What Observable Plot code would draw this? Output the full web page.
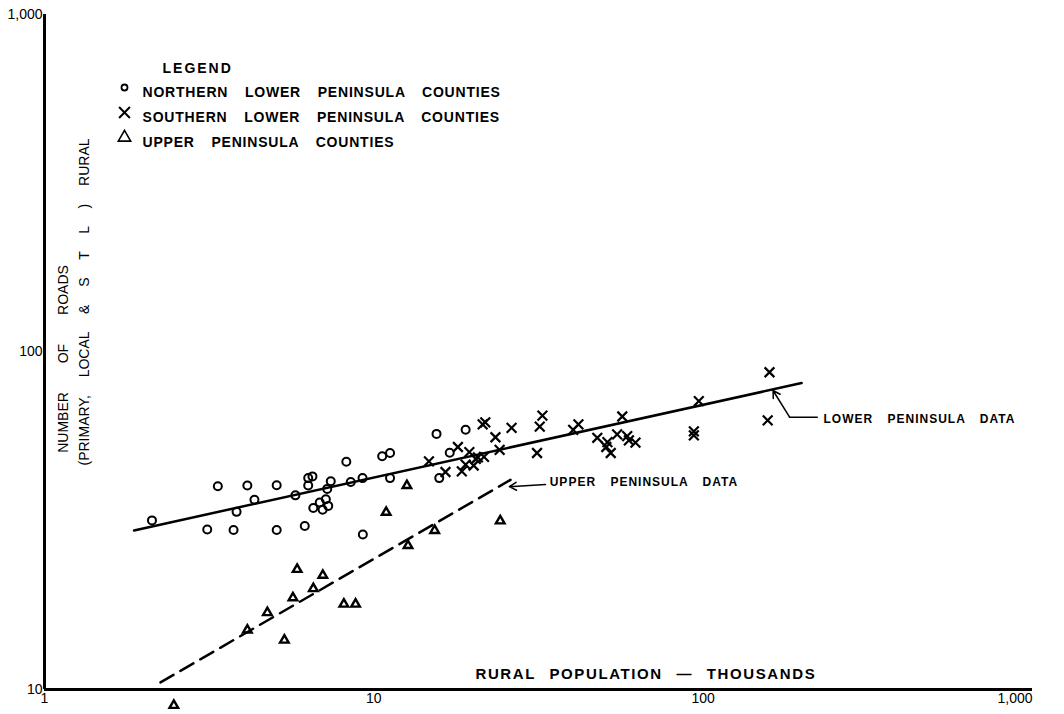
<!DOCTYPE html>
<html><head><meta charset="utf-8">
<script src="https://cdn.jsdelivr.net/npm/d3@7"></script>
<script src="https://cdn.jsdelivr.net/npm/@observablehq/plot@0.6"></script>
<style>
body{margin:0;background:#fff}
#chart svg{display:block}
</style>
</head><body><div id="chart"></div>
<script>
// Rural population (thousands) vs number of roads
const northernX = [2.12,3.12,3.36,3.75,3.83,4.13,4.34,5.07,5.07,5.78,6.17,6.32,6.51,6.32,6.55,6.85,6.99,7.15,7.27,7.22,7.40,8.25,8.51,9.24,9.26,10.6,11.2,11.2,15.5,19.0,17.0,15.8];
const northernY = [31.7,29.8,40.0,29.7,33.6,40.2,36.5,40.3,29.7,37.6,30.5,42.3,42.8,40.2,34.5,35.8,34.1,36.6,35.0,39.3,41.4,47.3,41.2,42.3,28.8,49.1,50.2,42.3,57.2,58.8,50.3,42.3];

const southernX = [14.7,16.5,18.0,18.5,19.0,19.5,20.1,20.4,20.7,21.6,21.4,21.8,23.4,24.1,26.2,31.3,31.9,32.5,40.3,41.8,47.7,50.8,51.2,52.4,54.8,56.8,58.8,59.5,62.3,93.7,93.7,97.0,157,159];
const southernY = [47.4,44.1,52.3,44.3,46.4,50.5,46.1,48.2,48.7,48.9,61.0,61.9,55.9,51.3,59.6,50.2,60.1,64.8,58.8,61.0,55.7,52.3,54.1,50.2,57.0,64.4,56.3,54.7,53.9,58.2,56.6,71.5,62.7,87.1];

const upperX = [12.6,10.9,24.2,15.3,12.7,5.85,7.00,6.55,5.68,8.11,8.80,4.75,4.13,5.35,2.47];
const upperY = [40.2,33.5,31.6,29.6,26.7,22.7,21.8,19.9,18.7,17.9,17.9,16.9,15.0,14.0,8.97];

// fitted lines
const lowerLineX = [1.87, 199];
const lowerLineY = [29.6, 80.9];
const upperLineX = [2.25, 26.0];
const upperLineY = [10.5, 41.8];

// annotation leaders
const lowerLeaderX = [222, 183, 163];
const lowerLeaderY = [64.1, 64.1, 76.9];
const upperLeaderX = [33.2, 25.8];
const upperLeaderY = [40.5, 39.9];
const lowerLabel = "LOWER PENINSULA DATA";
const lowerLabelX = 232, lowerLabelY = 63.1;
const upperLabel = "UPPER PENINSULA DATA";
const upperLabelX = 34.2, upperLabelY = 41.1;

// axes
const xTicks = [1, 10, 100];
const xTickLabels = ["1", "10", "100"];
const xLastTick = [1000];
const xLastTickLabel = ["1,000"];
const yTicks = [10, 100, 1000];
const yTickLabels = ["10", "100", "1,000"];
const xTitle = "RURAL POPULATION — THOUSANDS";
const yTitle1 = "NUMBER OF ROADS";
const yTitle2 = "(PRIMARY, LOCAL & S T L ) RURAL";

// legend
const legendTitle = "LEGEND";
const legendLabels = ["NORTHERN LOWER PENINSULA COUNTIES", "SOUTHERN LOWER PENINSULA COUNTIES", "UPPER PENINSULA COUNTIES"];
const legendSymbols = ["circle", "times", "triangle"];

const pts = (xs, ys) => xs.map((x, i) => ({x, y: ys[i]}));
const northern = pts(northernX, northernY);
const southern = pts(southernX, southernY);
const upper = pts(upperX, upperY);
const lowerLine = pts(lowerLineX, lowerLineY);
const upperLine = pts(upperLineX, upperLineY);
const lowerLeader = pts(lowerLeaderX, lowerLeaderY);

const legendMarks = [];
const legendR = [3, 5, 4.6];
const legendSW = [1.8, 2, 1.6];
legendLabels.forEach((lab, i) => {
  legendMarks.push(Plot.dot([0], {frameAnchor: "top-left", dx: 80, dy: 73 + 25 * i, symbol: legendSymbols[i], r: legendR[i], stroke: "black", strokeWidth: legendSW[i], fill: "none"}));
  legendMarks.push(Plot.text([lab], {frameAnchor: "top-left", dx: 98, dy: 73 + 25 * i, textAnchor: "start", fontWeight: "bold", fontSize: 14}));
});

const chart = Plot.plot({
  width: 1064, height: 714,
  marginLeft: 44, marginRight: 32, marginTop: 14, marginBottom: 25,
  style: {fontFamily: "'Liberation Sans', Arial, sans-serif", fontSize: "14px", background: "white", color: "black"},
  x: {type: "log", domain: [1, 1000]},
  y: {type: "log", domain: [10, 1000]},
  marks: [
    Plot.axisY({ticks: yTicks, tickSize: 0, tickPadding: 2, label: null, fontSize: 14, tickFormat: d => yTickLabels[yTicks.indexOf(d)]}),
    Plot.axisX({ticks: xTicks, tickSize: 0, tickPadding: 4, label: null, fontSize: 14, tickFormat: d => xTickLabels[xTicks.indexOf(d)]}),
    Plot.axisX({ticks: xLastTick, tickSize: 0, tickPadding: 4, label: null, fontSize: 14, textAnchor: "end", tickFormat: d => xLastTickLabel[xLastTick.indexOf(d)]}),
    Plot.ruleX([1], {y1: 10, y2: 1000, strokeWidth: 3}),
    Plot.ruleY([10], {x1: 1, x2: 1000, strokeWidth: 3}),
    Plot.line(lowerLine, {x: "x", y: "y", stroke: "black", strokeWidth: 2.5}),
    Plot.line(upperLine, {x: "x", y: "y", stroke: "black", strokeWidth: 2.5, strokeDasharray: "15,8"}),
    Plot.dot(northern, {x: "x", y: "y", r: 4, stroke: "black", strokeWidth: 2, fill: "none"}),
    Plot.dot(southern, {x: "x", y: "y", symbol: "times", r: 4.5, stroke: "black", strokeWidth: 2.2}),
    Plot.dot(upper, {x: "x", y: "y", symbol: "triangle", r: 3.2, stroke: "black", strokeWidth: 2.4, fill: "none"}),
    Plot.line(lowerLeader.slice(0, 2), {x: "x", y: "y", stroke: "black", strokeWidth: 1.5}),
    Plot.arrow([0], {x1: lowerLeaderX[1], y1: lowerLeaderY[1], x2: lowerLeaderX[2], y2: lowerLeaderY[2], stroke: "black", strokeWidth: 1.5, headLength: 8}),
    Plot.arrow([0], {x1: upperLeaderX[0], y1: upperLeaderY[0], x2: upperLeaderX[1], y2: upperLeaderY[1], stroke: "black", strokeWidth: 1.5, headLength: 8}),
    Plot.text([lowerLabel], {x: lowerLabelX, y: lowerLabelY, textAnchor: "start", fontWeight: "bold", fontSize: 12}),
    Plot.text([upperLabel], {x: upperLabelX, y: upperLabelY, textAnchor: "start", fontWeight: "bold", fontSize: 12}),
    Plot.text([xTitle], {frameAnchor: "bottom-left", dx: 431, dy: -11, textAnchor: "start", fontWeight: "bold", fontSize: 15}),
    Plot.text([yTitle1], {frameAnchor: "left", dx: 19, dy: 7, rotate: -90, textAnchor: "middle", fontSize: 14}),
    Plot.text([yTitle2], {frameAnchor: "left", dx: 40, dy: -50, rotate: -90, textAnchor: "middle", fontSize: 14}),
    Plot.text([legendTitle], {frameAnchor: "top-left", dx: 118, dy: 49, textAnchor: "start", fontWeight: "bold", fontSize: 14}),
    ...legendMarks
  ]
});
document.getElementById("chart").appendChild(chart);
const styleText = (list, styles) => {
  d3.select(chart).selectAll("text").filter(function() { return list.includes(this.textContent); })
    .each(function() { const el = d3.select(this); for (const k in styles) el.style(k, styles[k]); });
};
styleText(legendLabels, {"letter-spacing": "0.8px", "word-spacing": "12px"});
styleText([legendTitle], {"letter-spacing": "2px"});
styleText([lowerLabel, upperLabel], {"letter-spacing": "1px", "word-spacing": "10px"});
styleText([xTitle], {"letter-spacing": "1.6px", "word-spacing": "8px"});
styleText([yTitle1], {"word-spacing": "25px"});
styleText([yTitle2], {"word-spacing": "14px"});
</script>
</body></html>
